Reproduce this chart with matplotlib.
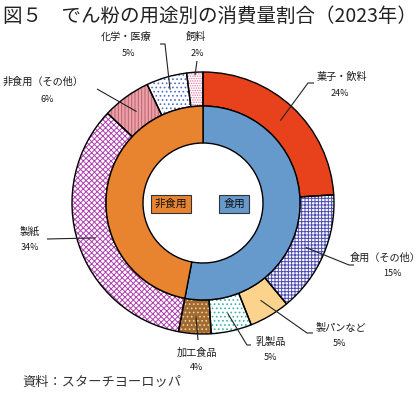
import numpy as np
import matplotlib
matplotlib.use("Agg")
import matplotlib.pyplot as plt

plt.rcParams['font.family'] = ['Noto Sans CJK JP', 'DejaVu Sans']
plt.rcParams['hatch.linewidth'] = 0.7

# ---- data ----
outer_labels = ["菓子・飲料", "食用（その他）", "製パンなど", "乳製品", "加工食品",
                "製紙", "非食用（その他）", "化学・医療", "飼料"]
outer_values = [24, 15, 5, 5, 4, 34, 6, 5, 2]
inner_labels = ["食用", "非食用"]
inner_values = [53, 47]

# ---- styles ----
outer_face = ["#E8421C", "white", "#FCD38D", "white", "#A36A30",
              "white", "#E8A2AA", "white", "white"]
outer_hatch = [None, "+++++", None, "....", "....", "xxxxxx", "|||||", "....", "......."]
outer_hcol = ["#E8421C", "#4B4BB2", "#FCD38D", "#39B2AE", "#E6CFA8",
              "#B040B0", "#C45E6C", "#4F6FC4", "#E27AA6"]
inner_colors = ["#6699CC", "#E8832F"]

W, H = 420, 398
cx, cy = 203, 203
R_out, R_mid, R_in = 131, 97, 60

fig = plt.figure(figsize=(W / 100, H / 100), dpi=100)
ax = fig.add_axes([0, 0, 1, 1])

# outer ring: hatch layer
wedges, _ = ax.pie(outer_values, radius=R_out, center=(cx, cy), startangle=-90,
                   counterclock=True, colors=outer_face, frame=True,
                   wedgeprops=dict(width=R_out - R_mid, linewidth=0))
for w, hc, hp in zip(wedges, outer_hcol, outer_hatch):
    w.set_edgecolor(hc)
    w.set_linewidth(0)
    if hp:
        w.set_hatch(hp)
# outer ring: outline layer
ax.pie(outer_values, radius=R_out, center=(cx, cy), startangle=-90,
       counterclock=True, colors=["none"] * len(outer_values), frame=True,
       wedgeprops=dict(width=R_out - R_mid, linewidth=1.0, edgecolor="black"))
# inner ring
ax.pie(inner_values, radius=R_mid, center=(cx, cy), startangle=-90,
       counterclock=True, colors=inner_colors, frame=True,
       wedgeprops=dict(width=R_mid - R_in, linewidth=1.0, edgecolor="black"))

ax.set_xlim(0, W)
ax.set_ylim(H, 0)
ax.set_aspect('equal')
ax.axis('off')

# ---- labels & leader lines (layout) ----
# (start radius, path points after start, name pos, pct pos)
layout = [
    (113, [(308, 83), (314, 83)], (342, 77), (340, 93)),
    (112, [(349, 265), (354, 265)], (385, 258), (392, 274)),
    (113, [(307, 333), (313, 333)], (341, 328), (339, 344)),
    (113, [(247, 345), (251, 345)], (271, 342), (270, 357)),
    (113, [(198, 340)], (197, 353), (197, 368)),
    (113, [(47, 239)], (30, 232), (30, 248)),
    (113, [(97, 89)], (43, 82), (47, 99)),
    (118, [(165, 44), (160, 44)], (126, 37), (128, 53)),
    (128, [(197, 61)], (196, 37), (197, 53)),
]
total = sum(outer_values)
cum = np.cumsum([0] + outer_values)
for i, (lab, val) in enumerate(zip(outer_labels, outer_values)):
    r, pts, npos, ppos = layout[i]
    mid = (cum[i] + val / 2) / total * 2 * np.pi
    sx, sy = cx + r * np.sin(mid), cy - r * np.cos(mid)
    xs = [sx] + [p[0] for p in pts]
    ys = [sy] + [p[1] for p in pts]
    ax.plot(xs, ys, color="#222222", lw=0.8, solid_capstyle="butt")
    ax.text(npos[0], npos[1], lab, ha="center", va="center", fontsize=7.3, color="#1a1a1a")
    ax.text(ppos[0], ppos[1], f"{val}%", ha="center", va="center", fontsize=6.5, color="#1a1a1a")

# inner labels
inner_pos = [(234, 204), (171, 204)]
for lab, col, pos in zip(inner_labels, inner_colors, inner_pos):
    ax.text(pos[0], pos[1], lab, ha="center", va="center", fontsize=7.8, color="#111111",
            bbox=dict(boxstyle="square,pad=0.35", facecolor=col, edgecolor="#333333", linewidth=0.8))

# title and source
fig.text(3 / W, 1 - 16 / H, "図５　でん粉の用途別の消費量割合（2023年）", ha="left", va="center",
         fontsize=14, color="#222222")
fig.text(22 / W, 1 - 382 / H, "資料：スターチヨーロッパ", ha="left", va="center",
         fontsize=9.5, color="#333333")

fig.savefig("out.png", dpi=100)
